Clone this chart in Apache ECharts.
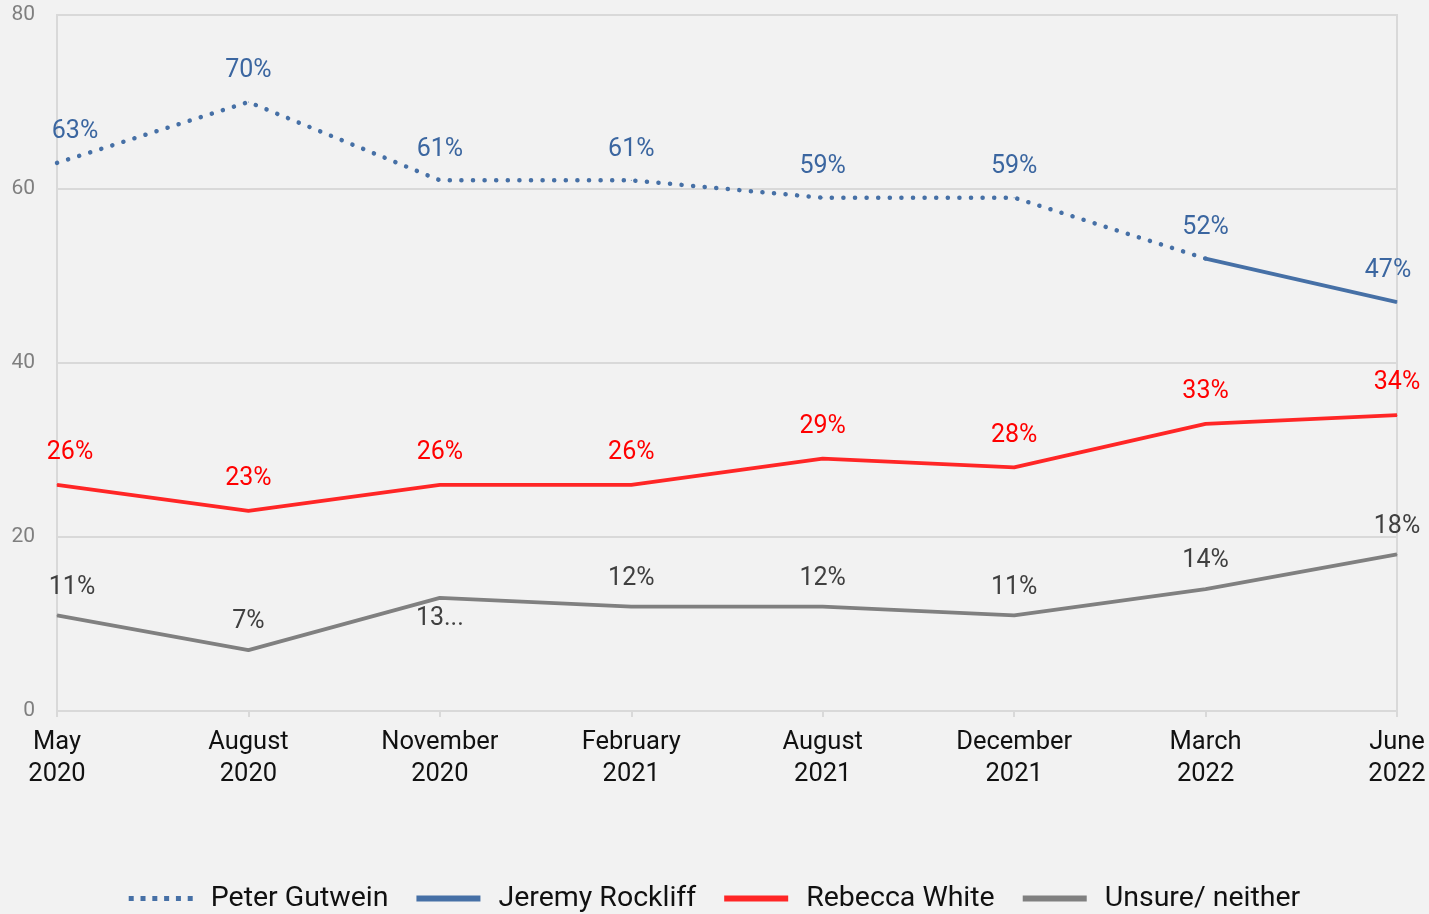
<!DOCTYPE html>
<html>
<head>
<meta charset="utf-8">
<script src="https://cdn.jsdelivr.net/npm/echarts@6/dist/echarts.min.js"></script>
<style>
  html, body { margin: 0; padding: 0; background: #f2f2f2; }
  #chart { width: 1429px; height: 914px; }
</style>
</head>
<body>
<div id="chart"></div>
<script>
// survey dates
const periods = ['May\n2020', 'August\n2020', 'November\n2020', 'February\n2021',
  'August\n2021', 'December\n2021', 'March\n2022', 'June\n2022']

// preferred premier, percent
const gutwein = [63, 70, 61, 61, 59, 59, 52, null]
const rockliff = [null, null, null, null, null, null, 52, 47]
const white = [26, 23, 26, 26, 29, 28, 33, 34]
const unsure = [11, 7, 13, 12, 12, 11, 14, 18]

const FONT = 'Roboto, "Liberation Sans", sans-serif'
const BLUE = '#4670a6'
const BLUE_TEXT = '#3b66a0'
const RED = '#ff2626'
const GREY = '#808080'

// six square dots for the dotted legend key
const DOTS_ICON = 'path://M0,0h5v5h-5z M11.8,0h5v5h-5z M23.6,0h5v5h-5z M35.4,0h5v5h-5z M47.2,0h5v5h-5z M59,0h5v5h-5z'

// build points; first point's label nudged right, truncated labels below
const toPoints = (arr, opts = {}) => arr.map((v, i) => {
  if (v == null) return '-'
  const item = { value: v }
  if (i === 0 && opts.firstOffset) item.label = { offset: [opts.firstOffset, 0] }
  if (opts.below && opts.below.includes(i)) {
    item.label = { position: 'bottom', distance: 8, formatter: v + '...' }
  }
  if (opts.noLabel && opts.noLabel.includes(i)) item.label = { show: false }
  return item
})

const lineSeries = (name, data, color, lineStyle, label, extra) => Object.assign({
  name,
  type: 'line',
  data,
  symbol: 'circle',
  symbolSize: 1,
  showSymbol: true,
  color,
  itemStyle: { color },
  lineStyle: Object.assign({ color, width: 3.8 }, lineStyle),
  label: Object.assign({ show: true, position: 'top', fontSize: 25, formatter: '{c}%' }, label),
  emphasis: { disabled: true }
}, extra)

const chart = echarts.init(document.getElementById('chart'))

chart.setOption({
  backgroundColor: '#f2f2f2',
  textStyle: { fontFamily: FONT },
  animation: false,
  grid: {
    left: 57, right: 32, top: 15, bottom: 203,
    show: true, borderColor: '#d9d9d9', borderWidth: 2
  },
  legend: {
    bottom: -4,
    left: 'center',
    itemWidth: 64,
    itemHeight: 6,
    itemGap: 28,
    textStyle: { fontSize: 28.5, color: '#111', fontFamily: FONT, padding: [0, 0, 0, 13] },
    data: [
      { name: 'Peter Gutwein', icon: DOTS_ICON, itemHeight: 5 },
      { name: 'Jeremy Rockliff', icon: 'rect' },
      { name: 'Rebecca White', icon: 'rect' },
      { name: 'Unsure/ neither', icon: 'rect' }
    ]
  },
  xAxis: {
    type: 'category',
    data: periods,
    boundaryGap: false,
    axisLine: { lineStyle: { color: '#d9d9d9', width: 2 } },
    axisTick: { show: true, length: 6, lineStyle: { color: '#d9d9d9', width: 2 } },
    axisLabel: { color: '#111', fontSize: 25.5, lineHeight: 32, margin: 16 }
  },
  yAxis: {
    type: 'value',
    min: 0, max: 80, interval: 20,
    axisLine: { show: false },
    axisTick: { show: false },
    axisLabel: { color: '#7f7f7f', fontSize: 21, margin: 22 },
    splitLine: { lineStyle: { color: '#d9d9d9', width: 2 } }
  },
  series: [
    lineSeries('Peter Gutwein', toPoints(gutwein, { firstOffset: 18 }), BLUE,
      { width: 4.5, type: [0.1, 11.5], cap: 'round' },
      { distance: 18, color: BLUE_TEXT }, { z: 3 }),
    lineSeries('Jeremy Rockliff', toPoints(rockliff, { noLabel: [6] }), BLUE,
      {}, { distance: 18, color: BLUE_TEXT, offset: [-9, 0] }, { z: 2 }),
    lineSeries('Rebecca White', toPoints(white, { firstOffset: 13 }), RED,
      {}, { distance: 19, color: '#ff0000' }),
    lineSeries('Unsure/ neither', toPoints(unsure, { firstOffset: 15, below: [2] }), GREY,
      {}, { distance: 15, color: '#404040' })
  ]
})
</script>
</body>
</html>
